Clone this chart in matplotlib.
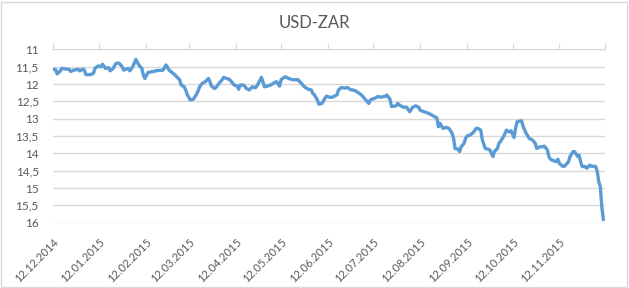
import datetime as dt

import matplotlib
matplotlib.use("Agg")
import matplotlib.pyplot as plt
from matplotlib.ticker import FuncFormatter, MultipleLocator
from matplotlib.patches import Rectangle

# USD-ZAR, days counted from 12.12.2014
start = dt.date(2014, 12, 12)
day_offsets = [
    0, 2, 3, 5, 6, 9, 11, 12, 14, 17, 18, 20, 21, 22, 25, 27, 28, 30, 32, 33,
    35, 37, 38, 40, 42, 44, 46, 47, 50, 51, 53, 54, 55, 57, 59, 60, 61, 63, 66, 67,
    69, 71, 73, 75, 77, 79, 81, 82, 84, 85, 87, 88, 89, 90, 91, 93, 95, 96, 97, 98,
    99, 101, 103, 104, 105, 107, 108, 110, 112, 113, 115, 117, 119, 120, 122, 123, 124, 126, 127, 128,
    130, 132, 134, 135, 136, 138, 139, 140, 142, 144, 146, 148, 150, 151, 152, 154, 156, 158, 160, 162,
    164, 166, 167, 169, 171, 172, 173, 175, 176, 178, 180, 181, 183, 185, 188, 189, 191, 193, 195, 197,
    198, 200, 202, 204, 205, 207, 209, 210, 211, 213, 215, 217, 219, 220, 221, 223, 224, 227, 228, 230,
    232, 234, 236, 238, 240, 242, 243, 245, 248, 250, 252, 254, 255, 256, 258, 260, 262, 264, 265, 266,
    268, 269, 270, 272, 273, 274, 276, 278, 280, 281, 283, 284, 286, 288, 289, 291, 292, 294, 295, 296,
    298, 300, 302, 303, 305, 306, 307, 310, 311, 313, 315, 317, 319, 320, 322, 324, 325, 327, 328, 329,
    331, 333, 334, 335, 337, 338, 339, 341, 342, 344, 345, 347, 348, 349, 350, 352, 353, 355, 356, 357,
    359, 360, 361, 362, 363, 364,
]
rates = [
    11.58, 11.58, 11.71, 11.63, 11.55, 11.57, 11.58, 11.64, 11.60, 11.58, 11.62, 11.57, 11.60, 11.73, 11.73, 11.69, 11.55, 11.48, 11.50, 11.43,
    11.55, 11.53, 11.62, 11.55, 11.40, 11.40, 11.50, 11.60, 11.55, 11.62, 11.50, 11.40, 11.29, 11.45, 11.55, 11.74, 11.84, 11.67, 11.64, 11.64,
    11.61, 11.61, 11.60, 11.45, 11.60, 11.67, 11.74, 11.79, 11.88, 12.03, 12.08, 12.17, 12.31, 12.38, 12.46, 12.44, 12.31, 12.22, 12.10, 12.03,
    11.98, 11.93, 11.84, 11.93, 12.06, 12.13, 12.10, 11.98, 11.88, 11.81, 11.84, 11.87, 11.98, 12.03, 12.06, 12.15, 12.03, 12.03, 12.06, 12.13,
    12.17, 12.08, 12.11, 12.06, 11.98, 11.81, 11.93, 12.08, 12.06, 12.03, 11.98, 11.93, 12.06, 11.88, 11.84, 11.79, 11.84, 11.87, 11.88, 11.87,
    11.96, 12.06, 12.10, 12.15, 12.17, 12.27, 12.31, 12.46, 12.58, 12.56, 12.41, 12.35, 12.38, 12.38, 12.31, 12.17, 12.10, 12.12, 12.10, 12.17,
    12.17, 12.19, 12.25, 12.31, 12.36, 12.46, 12.56, 12.46, 12.44, 12.41, 12.36, 12.38, 12.36, 12.35, 12.32, 12.44, 12.65, 12.63, 12.56, 12.63,
    12.67, 12.67, 12.80, 12.67, 12.63, 12.67, 12.76, 12.79, 12.84, 12.88, 12.93, 12.98, 13.23, 13.13, 13.28, 13.25, 13.28, 13.42, 13.56, 13.86,
    13.88, 13.95, 13.81, 13.71, 13.56, 13.50, 13.47, 13.40, 13.28, 13.28, 13.33, 13.61, 13.86, 13.88, 13.90, 14.09, 13.95, 13.86, 13.71, 13.66,
    13.52, 13.33, 13.38, 13.35, 13.54, 13.28, 13.09, 13.06, 13.23, 13.42, 13.57, 13.61, 13.71, 13.86, 13.81, 13.81, 13.79, 13.90, 14.09, 14.17,
    14.21, 14.24, 14.17, 14.29, 14.37, 14.38, 14.34, 14.24, 14.09, 13.95, 13.95, 14.09, 14.05, 14.24, 14.38, 14.38, 14.43, 14.34, 14.37, 14.37,
    14.38, 14.53, 14.82, 14.96, 15.54, 15.90,
]
tick_dates = [dt.date(2014, 12, 12)] + [dt.date(2015, m, 12) for m in range(1, 12)]
title = "USD-ZAR"

dates = [start + dt.timedelta(days=d) for d in day_offsets]

plt.rcParams["font.family"] = ["Lato", "DejaVu Sans"]
grey = "#D9D9D9"
text_col = "#595959"

fig = plt.figure(figsize=(6.29, 2.88), dpi=100)
ax = fig.add_axes([0.0836, 0.2267, 0.878, 0.602])

ax.plot(dates, rates, color="#5B9BD5", lw=2.4, solid_joinstyle="round")

ax.set_ylim(16, 11)
ax.yaxis.set_major_locator(MultipleLocator(0.5))
ax.yaxis.set_major_formatter(FuncFormatter(
    lambda v, _: ("%g" % v).replace(".", ",")))
ax.grid(axis="y", color=grey, lw=1)
ax.set_axisbelow(True)

# date axis sits at the top (value 11), labels stay at the bottom
ax.set_xlim(start, dt.date(2015, 12, 12))
ax.set_xticks(tick_dates + [dt.date(2015, 12, 12)])
ax.set_xticklabels([d.strftime("%d.%m.%Y") for d in tick_dates] + [""])
ax.tick_params(axis="x", top=True, bottom=False, labeltop=False, labelbottom=True,
               direction="out", length=4, color=grey, labelsize=8,
               labelcolor=text_col, pad=6)
for lbl in ax.get_xticklabels():
    lbl.set_rotation(45)
    lbl.set_ha("right")
    lbl.set_rotation_mode("anchor")
ax.tick_params(axis="y", length=0, labelsize=8.5, labelcolor=text_col, pad=10)

for side in ["left", "right", "bottom"]:
    ax.spines[side].set_visible(False)
ax.spines["top"].set_color(grey)

fig.text(0.5, 1 - 22.7 / 288, title, ha="center", va="center",
         fontsize=12, color=text_col)
fig.patches.append(Rectangle((0.5 / 629, 1.5 / 288), 626.5 / 629, 285 / 288,
                             transform=fig.transFigure, fill=False,
                             edgecolor=grey, lw=1))

fig.savefig("out.png", dpi=100)
